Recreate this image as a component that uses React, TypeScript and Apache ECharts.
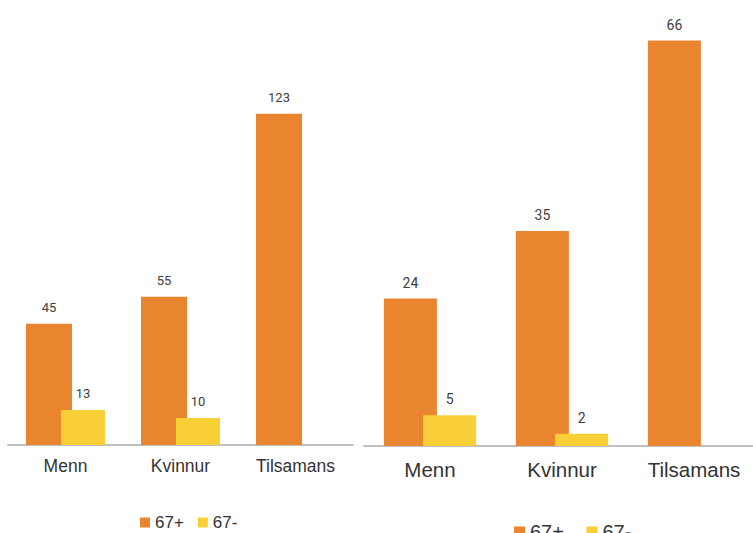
import React, { useEffect, useRef } from "react";
import * as echarts from "echarts";

const categories = ["Menn", "Kvinnur", "Tilsamans"];
const leftOver67 = [45, 55, 123];
const leftUnder67: (number | null)[] = [13, 10, null];
const rightOver67 = [24, 35, 66];
const rightUnder67: (number | null)[] = [5, 2, null];
const seriesNames = ["67+", "67-"];

const ORANGE = "#ea852f";
const YELLOW = "#f8cf37";

export default function App() {
  const ref = useRef<HTMLDivElement>(null);
  useEffect(() => {
    if (!ref.current) return;
    const chart = echarts.init(ref.current, null, { renderer: "svg" });
    const labelL = { show: true, position: "top", distance: 10, fontSize: 13, color: "#404040", fontFamily: "Roboto" };
    const labelR = { show: true, position: "top", distance: 9, fontSize: 14, color: "#404040", fontFamily: "Roboto" };
    chart.setOption({
      animation: false,
      backgroundColor: "#ffffff",
      grid: [
        { left: 8, top: 41, width: 345, height: 404 },
        { left: 364, top: 16, width: 396, height: 430 },
      ],
      legend: [
        {
          data: seriesNames,
          left: 135,
          top: 509,
          itemWidth: 10,
          itemHeight: 10,
          itemGap: 14,
          icon: "rect",
          textStyle: { fontSize: 17, color: "#333", fontFamily: "Liberation Sans" },
        },
        {
          data: [
            { name: seriesNames[0] + " ", itemStyle: { color: ORANGE } },
            { name: seriesNames[1] + " ", itemStyle: { color: YELLOW } },
          ],
          left: 509,
          top: 517,
          itemWidth: 11,
          itemHeight: 11,
          itemGap: 17,
          icon: "rect",
          textStyle: { fontSize: 20, color: "#333", fontFamily: "Liberation Sans" },
        },
      ],
      xAxis: [
        {
          type: "category",
          gridIndex: 0,
          data: categories,
          axisLine: { lineStyle: { color: "#c0c0c0", width: 2 } },
          axisTick: { show: false },
          axisLabel: { fontSize: 17.5, color: "#333", margin: 12, fontFamily: "Liberation Sans" },
        },
        {
          type: "category",
          gridIndex: 1,
          data: categories,
          axisLine: { lineStyle: { color: "#c0c0c0", width: 2 } },
          axisTick: { show: false },
          axisLabel: { fontSize: 20.5, color: "#333", margin: 13, fontFamily: "Liberation Sans" },
        },
      ],
      yAxis: [
        { type: "value", gridIndex: 0, min: 0, max: 150, show: false, splitLine: { show: false } },
        { type: "value", gridIndex: 1, min: 0, max: 70, show: false, splitLine: { show: false } },
      ],
      series: [
        {
          name: seriesNames[0],
          type: "bar",
          xAxisIndex: 0,
          yAxisIndex: 0,
          data: leftOver67,
          barWidth: 46,
          barGap: "-24%",
          itemStyle: { color: ORANGE },
          label: labelL,
        },
        {
          name: seriesNames[1],
          type: "bar",
          xAxisIndex: 0,
          yAxisIndex: 0,
          data: leftUnder67.map((v) => (v == null ? "-" : v)),
          barWidth: 44,
          barGap: "-24%",
          itemStyle: { color: YELLOW },
          label: labelL,
        },
        {
          name: seriesNames[0] + " ",
          type: "bar",
          xAxisIndex: 1,
          yAxisIndex: 1,
          data: rightOver67,
          barWidth: 53,
          barGap: "-26%",
          itemStyle: { color: ORANGE },
          label: labelR,
        },
        {
          name: seriesNames[1] + " ",
          type: "bar",
          xAxisIndex: 1,
          yAxisIndex: 1,
          data: rightUnder67.map((v) => (v == null ? "-" : v)),
          barWidth: 53,
          barGap: "-26%",
          itemStyle: { color: YELLOW },
          label: labelR,
        },
      ],
    });
    return () => chart.dispose();
  }, []);
  return (
    <div style={{ position: "absolute", left: 0, top: 0, width: 753, height: 533, overflow: "hidden" }}>
      <div ref={ref} style={{ width: 770, height: 533 }} />
    </div>
  );
}
